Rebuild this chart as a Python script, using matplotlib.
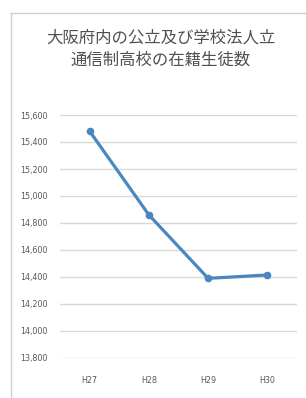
#!/usr/bin/env python3
"""Osaka public/private correspondence high school enrolment, H27-H30."""

import matplotlib

matplotlib.use("Agg")
import matplotlib.pyplot as plt
from matplotlib.lines import Line2D
from matplotlib.ticker import FuncFormatter

YEARS = ["H27", "H28", "H29", "H30"]
STUDENTS = [15480, 14860, 14390, 14415]
Y_TICKS = list(range(13800, 15601, 200))
TITLE = "大阪府内の公立及び学校法人立\n通信制高校の在籍生徒数"

plt.rcParams["font.family"] = ["Noto Sans CJK JP", "DejaVu Sans"]

fig = plt.figure(figsize=(3.06, 3.98), dpi=100)
fig.patch.set_facecolor("white")

# chart frame: only the left and top edges are inside the screenshot
frame_x = 10.5 / 306
frame_y = 1 - 12.5 / 398
fig.add_artist(Line2D([frame_x, frame_x], [0, frame_y], transform=fig.transFigure,
                      color="#d0d0d0", linewidth=1.0))
fig.add_artist(Line2D([frame_x, 1], [frame_y, frame_y], transform=fig.transFigure,
                      color="#d0d0d0", linewidth=1.0))

fig.text(161 / 306, 1 - 49 / 398, TITLE, ha="center", va="center",
         fontsize=11.8, color="#505050", linespacing=1.4)

ax = fig.add_axes([60 / 306, 1 - 358 / 398, 237 / 306, 243 / 398])
x = list(range(len(YEARS)))
ax.plot(x, STUDENTS, color="#4a86c0", linewidth=2.3, marker="o", markersize=4.5)

ax.set_xlim(-0.5, len(YEARS) - 0.5)
ax.set_ylim(Y_TICKS[0], Y_TICKS[-1])
ax.set_yticks(Y_TICKS)
ax.yaxis.set_major_formatter(FuncFormatter(lambda v, _: f"{int(v):,}"))
ax.set_xticks(x)
ax.set_xticklabels(YEARS)
ax.grid(axis="y", color="#d9d9d9", linewidth=1.0)
ax.set_axisbelow(True)
for spine in ax.spines.values():
    spine.set_visible(False)
ax.tick_params(axis="y", length=0, pad=9, labelsize=5.8, labelcolor="#595959")
ax.tick_params(axis="x", length=0, pad=13, labelsize=5.8, labelcolor="#595959")
for label in ax.get_xticklabels() + ax.get_yticklabels():
    label.set_family("DejaVu Sans")

fig.savefig("out.png", dpi=100)
